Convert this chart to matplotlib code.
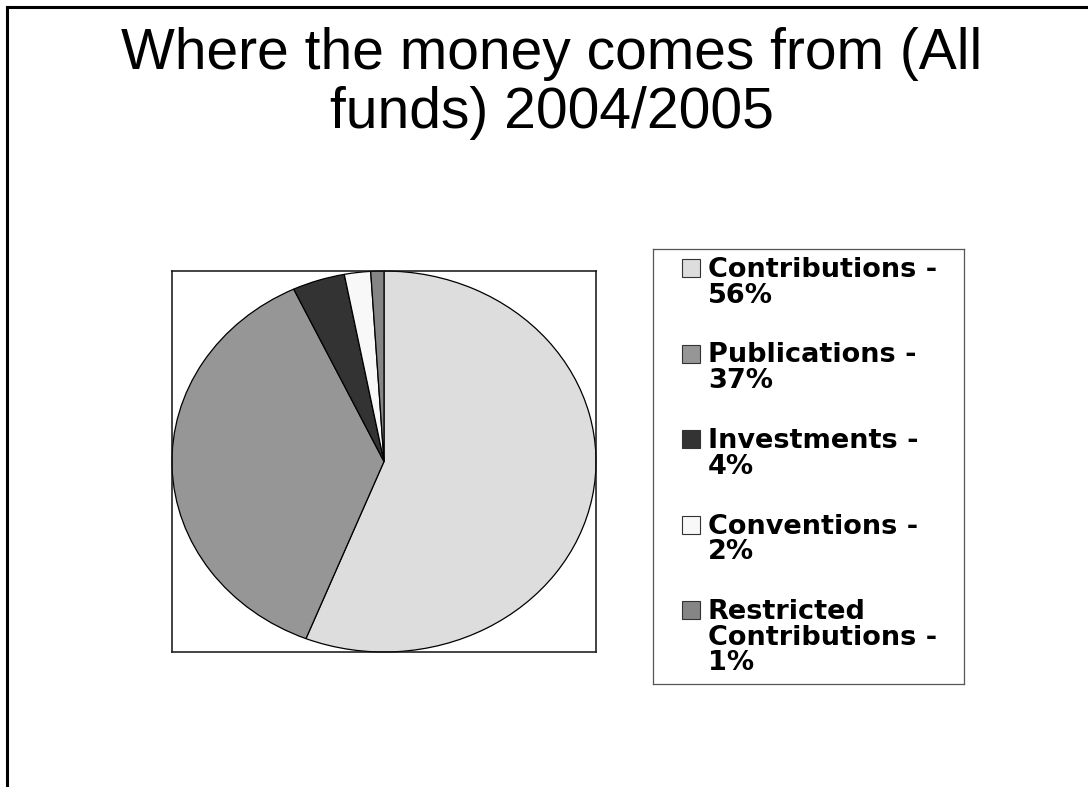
import matplotlib.pyplot as plt
from matplotlib.patches import Rectangle
from matplotlib.lines import Line2D

title = "Where the money comes from (All\nfunds) 2004/2005"
sources = ["Contributions", "Publications", "Investments", "Conventions", "Restricted\nContributions"]
shares = [56, 37, 4, 2, 1]
colors = ["#dddddd", "#969696", "#333333", "#f8f8f8", "#858585"]

W, H = 1088, 787
fig = plt.figure(figsize=(W / 100, H / 100), dpi=100)

def px_box(x0, y0, x1, y1):
    return [x0 / W, (H - y1) / H, (x1 - x0) / W, (y1 - y0) / H]

# slide frame (left and top edges)
fig.add_artist(Line2D([7 / W, 7 / W], [0, 1 - 7 / H], transform=fig.transFigure,
                      color="black", lw=2.2, solid_capstyle="projecting"))
fig.add_artist(Line2D([7 / W, 1], [1 - 7 / H, 1 - 7 / H], transform=fig.transFigure,
                      color="black", lw=2.2, solid_capstyle="projecting"))

fig.text(552 / W, 1 - 27 / H, title, ha="center", va="top", fontsize=41,
         family="Liberation Sans", linespacing=1.12)

# pie, stretched to fill its box
ax = fig.add_axes(px_box(172, 271, 596, 652))
ax.pie(shares, colors=colors, startangle=90, counterclock=False,
       wedgeprops=dict(edgecolor="black", linewidth=0.9))
ax.set_aspect("auto")
ax.set_xlim(-1, 1)
ax.set_ylim(-1, 1)
ax.set_frame_on(True)
for s in ax.spines.values():
    s.set_color("#111111")
    s.set_linewidth(1.1)

# legend
lg = fig.add_axes(px_box(653, 249, 964, 684))
lg.set_xlim(0, 311)
lg.set_ylim(435, 0)
lg.set_xticks([])
lg.set_yticks([])
for s in lg.spines.values():
    s.set_color("#555555")
    s.set_linewidth(0.9)

for i, (name, pct, c) in enumerate(zip(sources, shares, colors)):
    top = 8 + i * 85.5
    lg.add_patch(Rectangle((29, top + 2), 18, 18, facecolor=c, edgecolor="#333333", lw=0.8))
    lg.text(55, top, f"{name} -\n{pct}%", ha="left", va="top", fontsize=19.5,
            fontweight="bold", family="DejaVu Sans", linespacing=0.98)

fig.savefig("out.png", dpi=100)
